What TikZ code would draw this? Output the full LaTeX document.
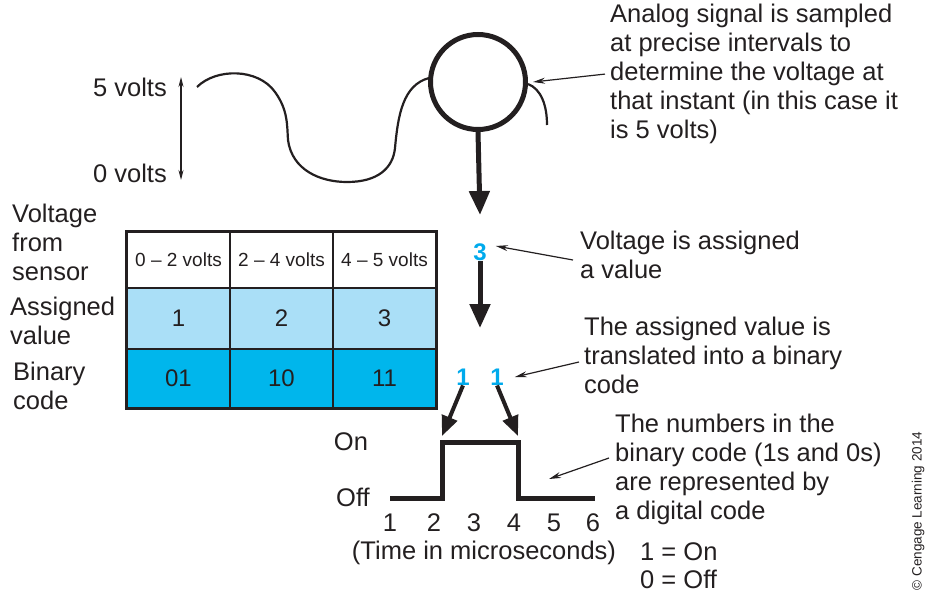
\documentclass[tikz,border=0pt]{standalone}
\usepackage{fontspec}
\setmainfont{Liberation Sans}
\usepackage{tikz}
\usetikzlibrary{arrows.meta, positioning}
\definecolor{cellLight}{RGB}{170,223,247}
\definecolor{cellCyan}{RGB}{0,182,236}
\definecolor{valCyan}{RGB}{0,170,236}
\definecolor{inkGray}{RGB}{35,31,32}

\begin{document}
\begin{tikzpicture}[
  x=1pt, y=-1pt,
  every node/.style={text=inkGray, inner sep=0pt},
  txt/.style={font=\fontsize{25.5}{29}\selectfont, align=left},
  cell/.style={
    rectangle, draw=inkGray, line width=2pt, fill=#1,
    minimum width=103pt, font=\fontsize{24}{29}\selectfont
  },
  val/.style={font=\fontsize{24}{29}\selectfont\bfseries, text=valCyan},
  big/.style={-{Triangle[length=24pt,width=20pt]}, line width=5pt, inkGray},
  mid/.style={-{Triangle[length=20pt,width=16pt]}, line width=4pt, inkGray},
  callout/.style={-{Stealth[length=12pt,width=6pt]}, line width=1.2pt, inkGray},
  pulse/.style={line width=5pt, inkGray, line join=miter},
  wave/.style={line width=2.2pt, inkGray}
]
  \useasboundingbox (0,0) rectangle (934,594);

  % Analog signal
  \node[txt, anchor=east] (five) at (167,87) {5 volts};
  \node[txt, anchor=east] (zero) at (167,173) {0 volts};
  \coordinate (vtop) at (181,77);
  \coordinate (vbot) at (181,180);
  \draw[{Stealth[length=10pt,width=5pt]}-{Stealth[length=10pt,width=5pt]},
    line width=1.2pt, inkGray] (vtop) -- (vbot);
  \draw[wave] (197,87) .. controls (216,68) and (258,68) .. (275,92)
    .. controls (288,110) and (287,125) .. (288,140)
    .. controls (292,170) and (320,182) .. (347,182)
    .. controls (378,182) and (393,168) .. (395,148)
    .. controls (398,115) and (403,85) .. (429,78);
  \draw[wave] (528,84) .. controls (541,89) and (547,105) .. (547,125);
  \node[circle, draw=inkGray, line width=5pt, minimum size=95pt] (probe) at (478,82) {};

  \node[txt, anchor=north west] (sample) at (610,4)
    {Analog signal is sampled\\at precise intervals to\\determine the voltage at\\that instant (in this case it\\is 5 volts)};

  % Assigned value
  \node[val] (three) at (480,252) {3};
  \coordinate (drop) at (480,215);
  \node[txt, anchor=west] (assign) at (580,255) {Voltage is assigned\\a value};

  % Table
  \node[txt, anchor=west] (rowA) at (12,242) {Voltage\\from\\sensor};
  \node[txt, anchor=west] (rowB) at (10,321) {Assigned\\value};
  \node[txt, anchor=west] (rowC) at (13,386) {Binary\\code};
  \foreach \c/\x/\r/\v/\b in {1/178.5/0 -- 2 volts/1/01, 2/281.5/2 -- 4 volts/2/10, 3/384.5/4 -- 5 volts/3/11} {
    \node[cell=white, minimum height=56pt, font=\fontsize{19}{22}\selectfont] (h\c) at (\x,260) {\r};
    \node[cell=cellLight, minimum height=61pt] (a\c) at (\x,318.5) {\v};
    \node[cell=cellCyan, minimum height=59pt] (b\c) at (\x,378.5) {\b};
  }
  \draw[line width=2pt, inkGray] (h1.north west) rectangle (b3.south east);

  % Binary code
  \node[val] (bitA) at (463,377) {1};
  \node[val] (bitB) at (497,377) {1};
  \coordinate (mid3) at (480,328);
  \node[txt, anchor=west] (translate) at (584,355)
    {The assigned value is\\translated into a binary\\code};

  % Digital signal
  \coordinate (p0) at (390,498);
  \coordinate (p1) at (442,498);
  \coordinate (p2) at (442,442);
  \coordinate (p3) at (518,442);
  \coordinate (p4) at (518,498);
  \coordinate (p5) at (595,498);
  \draw[pulse] (p0) -- (p1) -- (p2) -- (p3) -- (p4) -- (p5);
  \node[txt] (on) at (351,442) {On};
  \node[txt] (off) at (353,497) {Off};
  \foreach \t/\x in {1/390, 2/434, 3/474, 4/514, 5/554, 6/593}
    \node[txt] (t\t) at (\x,523) {\t};
  \node[txt] (time) at (484,553) {(Time in microseconds)};
  \node[txt, anchor=west] (ones) at (640,552) {1 = On};
  \node[txt, anchor=west] (zeros) at (640,579) {0 = Off};
  \node[txt, anchor=west] (numbers) at (615,469)
    {The numbers in the\\binary code (1s and 0s)\\are represented by\\a digital code};

  % Arrows
  \draw[big] (probe.south) -- (drop);
  \draw[big] (three.south) -- (mid3);
  \draw[mid] (bitA.south) -- ([yshift=6pt]p2);
  \draw[mid] (bitB.south) -- ([yshift=6pt]p3);
  \draw[callout] ([xshift=-5pt]sample.west) -- ([xshift=5pt]probe.east);
  \draw[callout] ([xshift=-7pt,yshift=-5pt]assign.west) -- ([xshift=9pt,yshift=6pt]three.east);
  \draw[callout] ([xshift=-5pt,yshift=-7pt]translate.west) -- ([xshift=11pt]bitB.east);
  \coordinate (pulseHint) at (549,479);
  \draw[callout] ([xshift=-6pt,yshift=11pt]numbers.west) -- (pulseHint);

  % Labels
  \node[rotate=90, font=\fontsize{13.5}{16}\selectfont] (credit) at (918,511)
    {\textcopyright\ Cengage Learning 2014};
\end{tikzpicture}
\end{document}
